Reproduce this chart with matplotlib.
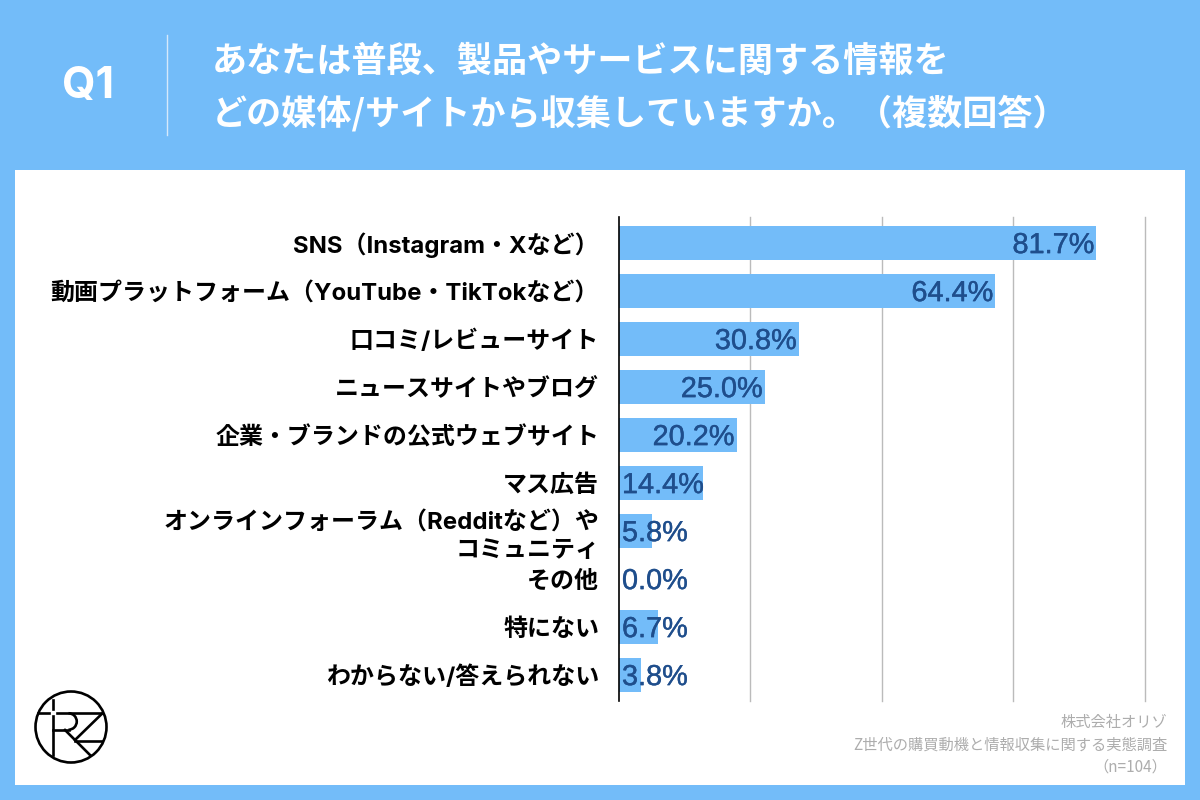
import matplotlib
matplotlib.use("Agg")
import matplotlib.pyplot as plt
import matplotlib.patheffects as pe
from matplotlib.patches import Rectangle, Circle, Arc

plt.rcParams['font.family'] = ['Noto Sans CJK JP', 'DejaVu Sans']

categories = ["SNS（Instagram・Xなど）",
              "動画プラットフォーム（YouTube・TikTokなど）",
              "口コミ/レビューサイト",
              "ニュースサイトやブログ",
              "企業・ブランドの公式ウェブサイト",
              "マス広告",
              "オンラインフォーラム（Redditなど）や\nコミュニティ",
              "その他",
              "特にない",
              "わからない/答えられない"]
values = [81.7, 64.4, 30.8, 25.0, 20.2, 14.4, 5.8, 0.0, 6.7, 3.8]
grid_ticks = [22.5, 45, 67.5, 90]

title_lines = ["あなたは普段、製品やサービスに関する情報を",
               "どの媒体/サイトから収集していますか。（複数回答）"]
footer_lines = ["株式会社オリゾ", "Z世代の購買動機と情報収集に関する実態調査", "（n=104）"]

BLUE = "#73bcf9"
W, H = 1200, 800

fig = plt.figure(figsize=(12, 8), dpi=100, facecolor=BLUE)

# background layer in pixel coords
bg = fig.add_axes([0, 0, 1, 1])
bg.set_xlim(0, W)
bg.set_ylim(H, 0)
bg.axis("off")
bg.add_patch(Rectangle((15, 170), 1170, 615, fc="white", ec="none"))
bg.plot([167, 167], [35, 135], color="#d5e9fb", lw=1)
bg.text(88, 86, "Q1", color="white", fontsize=31, fontweight="bold",
        family=["Inter", "Liberation Sans"], ha="center", va="center")
bg.text(212, 61, title_lines[0], color="white", fontsize=25.25, fontweight="bold", va="center")
bg.text(212, 113, title_lines[1], color="white", fontsize=25.25, fontweight="bold", va="center")

bg.text(1167, 722, footer_lines[0], color="#adadad", fontsize=11, ha="right", va="center")
bg.text(1167, 745, footer_lines[1], color="#adadad", fontsize=11, ha="right", va="center")
bg.text(1167, 767, footer_lines[2], color="#adadad", fontsize=11, ha="right", va="center")

# logo
lw = 1.9
bg.add_patch(Circle((71, 727), 35.5, fc="none", ec="black", lw=lw))
bg.plot([52.7, 52.7], [700, 709], color="black", lw=lw)
bg.plot([52.7, 52.7], [716, 755], color="black", lw=lw)
bg.plot([38, 49], [713, 713], color="black", lw=lw)
bg.plot([57, 102], [713, 713], color="black", lw=lw)
bg.plot([52.7, 68.5], [729.5, 729.5], color="black", lw=lw)
bg.add_patch(Arc((68.5, 721.5), 16.5, 16.5, theta1=-90, theta2=90, ec="black", lw=lw))
bg.plot([65, 90], [730, 755], color="black", lw=lw)
bg.plot([101.7, 75], [714, 740], color="black", lw=lw)
bg.plot([75, 102], [740.5, 740.5], color="black", lw=lw)

# chart
left, right, top, bottom = 618.5, 1145, 217, 700.5
ax = fig.add_axes([left / W, 1 - bottom / H, (right - left) / W, (bottom - top) / H])
ax.patch.set_alpha(0)
pos = list(range(len(values)))
ax.barh(pos, values, height=34 / 48, color=BLUE, zorder=2)
ax.set_xlim(0, 90)
ax.set_ylim(9 + 25.5 / 48, -26 / 48)
ax.set_xticks(grid_ticks)
ax.set_xticklabels([])
ax.tick_params(axis="x", length=0)
ax.grid(axis="x", color="#bbbbbb", lw=1, zorder=0, clip_on=False)
ax.set_axisbelow(True)
ax.set_yticks(pos)
ax.set_yticklabels(categories, fontsize=17.25, fontweight="bold", color="black",
                   linespacing=1.35, family=["Inter", "Noto Sans CJK JP", "DejaVu Sans"])
ax.tick_params(axis="y", length=0, pad=14)
for s in ["top", "right", "bottom"]:
    ax.spines[s].set_visible(False)
ax.spines["left"].set_color("black")
ax.spines["left"].set_linewidth(1.2)

for i, v in enumerate(values):
    txt = "%.1f%%" % v
    stroke = [pe.withStroke(linewidth=0.3, foreground="#1f4e8c")]
    if v > 15:
        ax.annotate(txt, (v, i), xytext=(-1.5, -1.5), textcoords="offset points", ha="right", va="center",
                    color="#1f4e8c", fontsize=20.8, family=["Liberation Sans"], zorder=3, path_effects=stroke)
    else:
        ax.annotate(txt, (0, i), xytext=(2.5, -1.5), textcoords="offset points", ha="left", va="center",
                    color="#1f4e8c", fontsize=20.8, family=["Liberation Sans"], zorder=3, path_effects=stroke)

fig.savefig("out.png", dpi=100, facecolor=BLUE)
